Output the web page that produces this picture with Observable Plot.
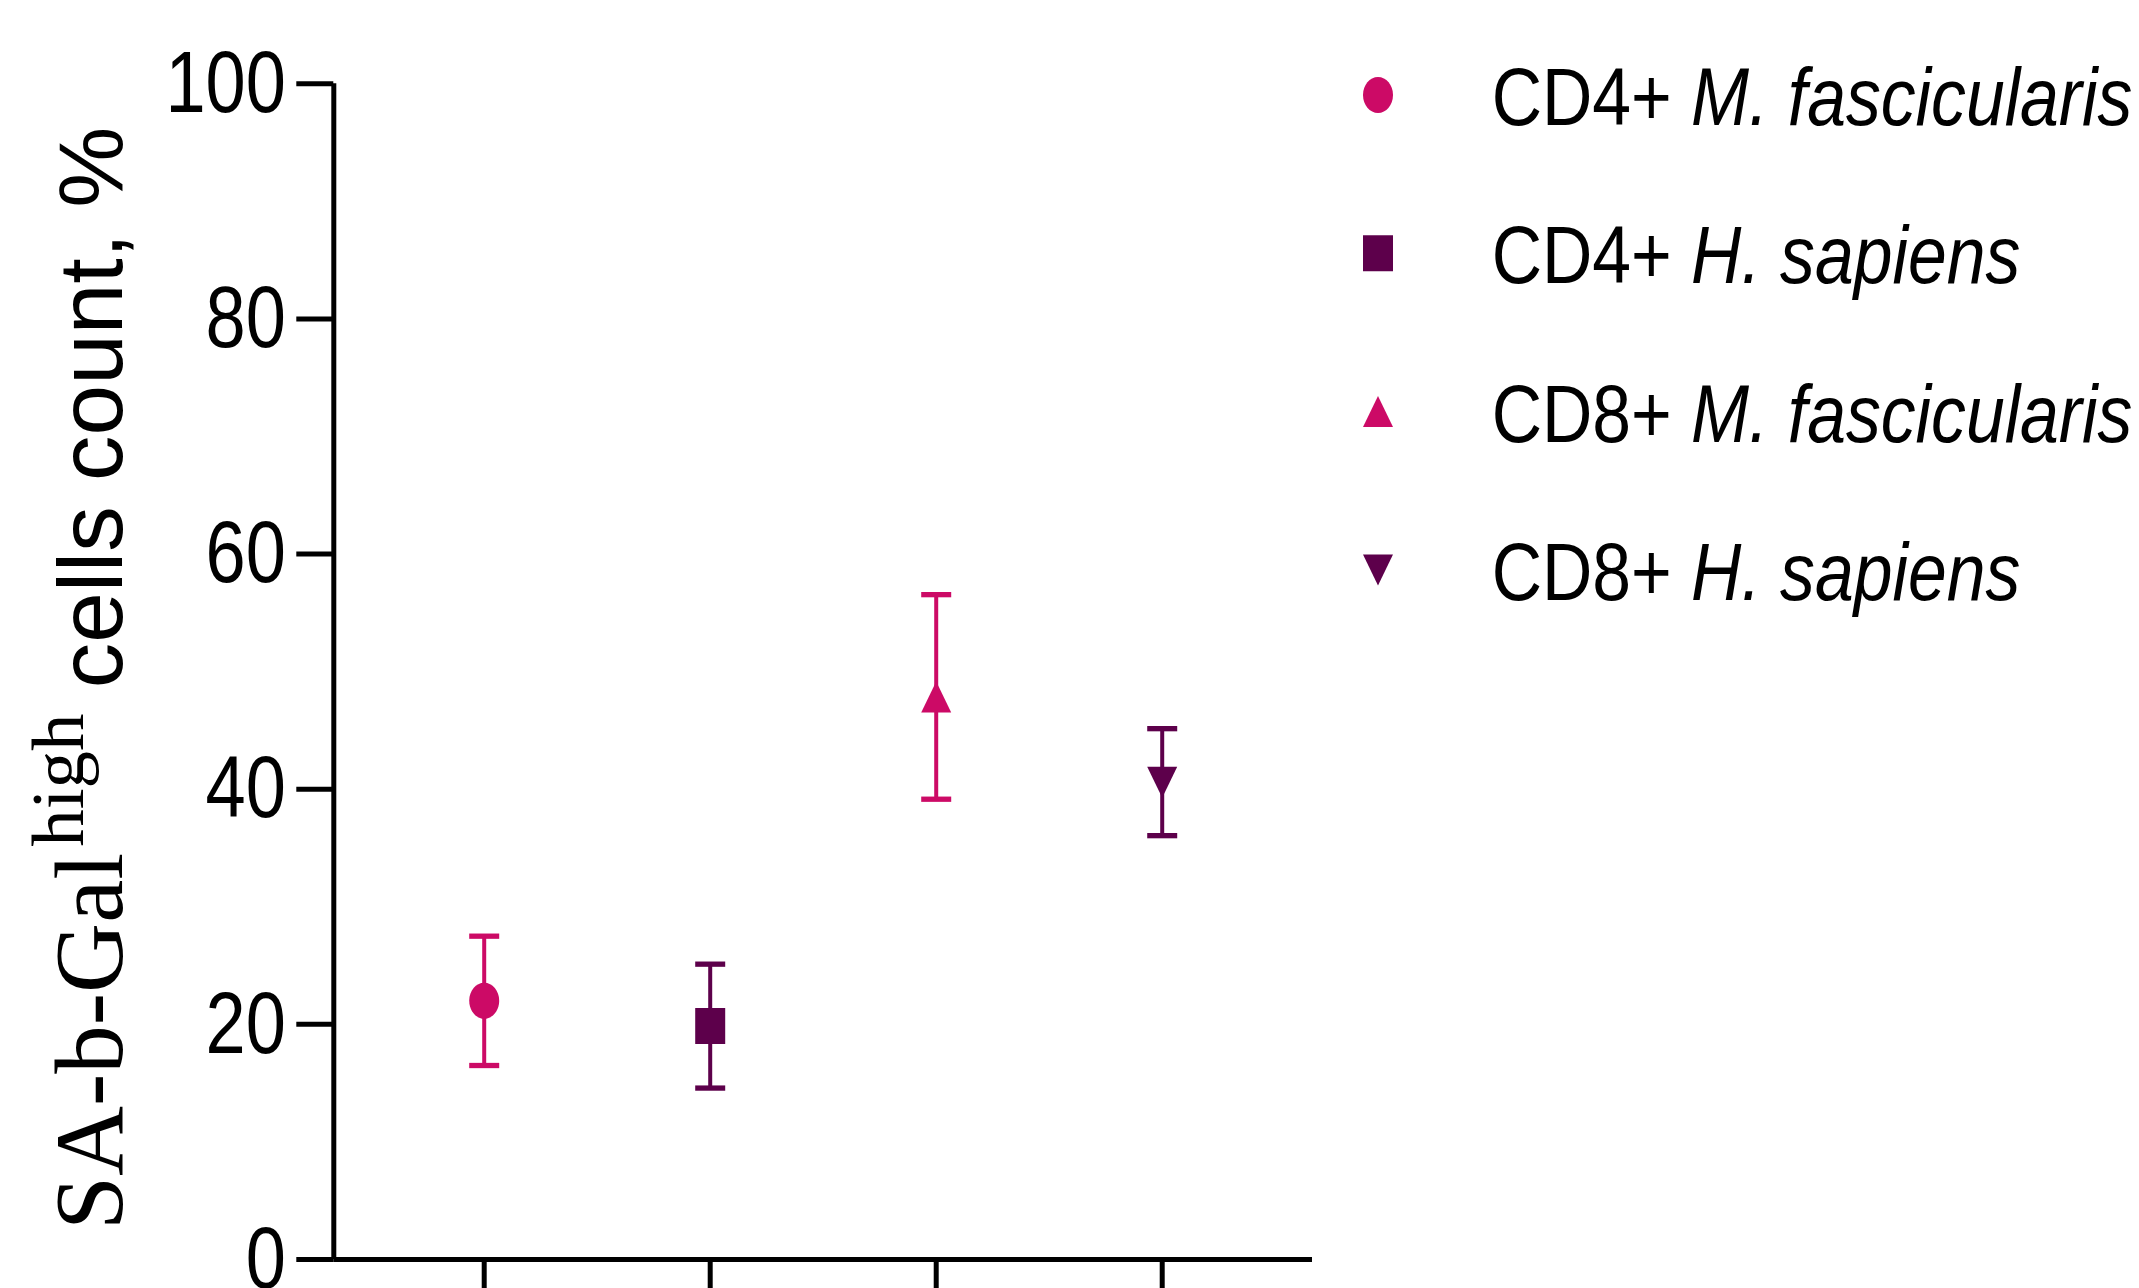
<!DOCTYPE html>
<html>
<head>
<meta charset="utf-8">
<script src="https://cdn.jsdelivr.net/npm/d3@7"></script>
<script src="https://cdn.jsdelivr.net/npm/@observablehq/plot@0.6"></script>
<style>
  html, body { margin: 0; padding: 0; background: #fff; overflow: hidden; }
  #chart svg { display: block; overflow: hidden; }
</style>
</head>
<body>
<div id="chart"></div>
<script>
// ---- data ----
const cellTypes = ["CD4+", "CD4+", "CD8+", "CD8+"];
const species = ["M. fascicularis", "H. sapiens", "M. fascicularis", "H. sapiens"];
const means = [22.0, 19.85, 47.85, 40.6];
const errors = [5.5, 5.27, 8.7, 4.55];
const colors = ["#CC0A66", "#5D004B", "#CC0A66", "#5D004B"];
const yTicks = [0, 20, 40, 60, 80, 100];
const xPositions = [1, 2, 3, 4];
const xDomain = [0.3345, 4.665];

const data = cellTypes.map((c, i) => ({
  cell: c, species: species[i], x: xPositions[i],
  mean: means[i], lo: means[i] - errors[i], hi: means[i] + errors[i], color: colors[i]
}));

// ---- symbols ----
const ellipseSym = {draw(ctx) {
  const rx = 15, ry = 18, k = 0.5523;
  ctx.moveTo(rx, 0);
  ctx.bezierCurveTo(rx, ry * k, rx * k, ry, 0, ry);
  ctx.bezierCurveTo(-rx * k, ry, -rx, ry * k, -rx, 0);
  ctx.bezierCurveTo(-rx, -ry * k, -rx * k, -ry, 0, -ry);
  ctx.bezierCurveTo(rx * k, -ry, rx, -ry * k, rx, 0);
  ctx.closePath();
}};
const rectSym = {draw(ctx) { ctx.rect(-15, -18, 30, 36); }};
const triUpSym = {draw(ctx) { ctx.moveTo(0, -15.5); ctx.lineTo(15, 15.5); ctx.lineTo(-15, 15.5); ctx.closePath(); }};
const triDownSym = {draw(ctx) { ctx.moveTo(0, 15.5); ctx.lineTo(15, -15.5); ctx.lineTo(-15, -15.5); ctx.closePath(); }};
const capSym = {draw(ctx) { ctx.moveTo(-15, 0); ctx.lineTo(15, 0); }};
const shapes = [ellipseSym, rectSym, triUpSym, triDownSym];

// detect whether a narrow sans face is installed; otherwise compress regular sans
const cv = document.createElement("canvas").getContext("2d");
cv.font = '80px "Liberation Sans Narrow", monospace';
const wNarrow = cv.measureText("CD4+ fascicularis 100").width;
cv.font = '80px monospace';
const wMono = cv.measureText("CD4+ fascicularis 100").width;
const hasNarrow = Math.abs(wNarrow - wMono) > 1;
const narrow = '"Liberation Sans Narrow", "Arial Narrow", "Liberation Sans", Arial, sans-serif';
const squeeze = hasNarrow ? 1 : 0.82;
const legendSqueeze = hasNarrow ? 1.04 : 0.86;

const plot = Plot.plot({
  width: 2139,
  height: 1288,
  marginLeft: 333.3,
  marginRight: 827,
  marginTop: 83.3,
  marginBottom: 29,
  style: {background: "white", color: "black"},
  x: {type: "linear", domain: xDomain},
  y: {domain: [0, 100]},
  marks: [
    Plot.axisY({ticks: yTicks, tickSize: 37, tickPadding: 11, strokeWidth: 5, fontSize: 88,
      fontFamily: narrow, label: null, tickFormat: d => String(d)}),
    Plot.axisX({ticks: xPositions, tickSize: 40, strokeWidth: 5, label: null, tickFormat: () => ""}),
    Plot.ruleY([0], {stroke: "black", strokeWidth: 5}),
    Plot.ruleX([xDomain[0]], {y1: 0, y2: 100, stroke: "black", strokeWidth: 5}),
    Plot.ruleX(data, {x: "x", y1: "lo", y2: "hi", stroke: "color", strokeWidth: 4}),
    Plot.dot(data, {x: "x", y: "lo", symbol: capSym, fill: "none", stroke: "color", strokeWidth: 5.3, strokeLinecap: "butt"}),
    Plot.dot(data, {x: "x", y: "hi", symbol: capSym, fill: "none", stroke: "color", strokeWidth: 5.3, strokeLinecap: "butt"}),
    ...data.map((d, i) => Plot.dot([d], {x: "x", y: "mean", symbol: shapes[i], fill: "color", stroke: "none"}))
  ]
});

document.getElementById("chart").appendChild(plot);

const svg = d3.select(plot);

// compress text horizontally if no narrow face
function squeezeText(node, factor) {
  if (factor === 1) return;
  const len = node.getComputedTextLength();
  node.setAttribute("textLength", (len * factor).toFixed(2));
  node.setAttribute("lengthAdjust", "spacingAndGlyphs");
}
svg.selectAll("text").each(function() { if (this.textContent.trim() !== "") squeezeText(this, squeeze); });

// ---- y-axis label (mixed fonts) ----
const ylab = svg.append("text")
  .attr("transform", "translate(122,1230) rotate(-90)")
  .attr("text-anchor", "start")
  .attr("fill", "black");
ylab.append("tspan").attr("font-family", '"Liberation Serif", "Times New Roman", serif').attr("font-size", 97).text("SA-b-Gal");
ylab.append("tspan").attr("font-family", '"Liberation Serif", "Times New Roman", serif').attr("font-size", 75).attr("dy", -39).attr("dx", 6).text("high");
ylab.append("tspan").attr("font-family", '"Liberation Sans", Arial, sans-serif').attr("font-size", 91).attr("dy", 39).text(" cells count, %");

// ---- legend ----
const legendMarkerX = 1378, legendTextX = 1491.7, firstBaseline = 125, rowStep = 158.3;
data.forEach((d, i) => {
  const base = firstBaseline + i * rowStep;
  const cy = base - 30;
  const p = d3.path();
  shapes[i].draw(p);
  svg.append("path").attr("d", p.toString())
    .attr("transform", `translate(${legendMarkerX},${cy})`)
    .attr("fill", d.color);
  const t = svg.append("text").attr("x", legendTextX).attr("y", base)
    .attr("text-anchor", "start")
    .attr("font-family", narrow).attr("font-size", 81).attr("fill", "black");
  t.append("tspan").text(d.cell + " ");
  t.append("tspan").attr("font-style", "italic").text(d.species);
  squeezeText(t.node(), legendSqueeze);
});
</script>
</body>
</html>
